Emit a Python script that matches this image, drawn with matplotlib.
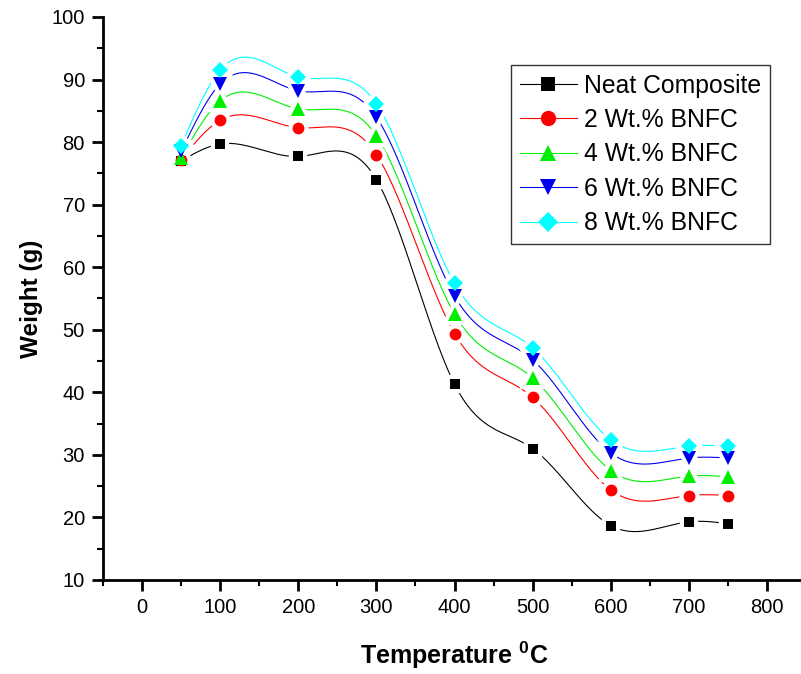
import numpy as np
import matplotlib
matplotlib.use("Agg")
import matplotlib.pyplot as plt
from matplotlib.ticker import MultipleLocator

plt.rcParams['font.family'] = ['Liberation Sans', 'DejaVu Sans']

temps = [50, 100, 200, 300, 400, 500, 600, 700, 750]
neat = [77.0, 79.7, 77.7, 74.0, 41.3, 31.0, 18.7, 19.3, 19.0]
bnfc2 = [77.2, 83.5, 82.3, 78.0, 49.4, 39.2, 24.4, 23.5, 23.5]
bnfc4 = [77.5, 86.6, 85.3, 81.0, 52.5, 42.3, 27.5, 26.6, 26.5]
bnfc6 = [78.5, 89.3, 88.2, 84.0, 55.4, 45.2, 30.3, 29.5, 29.5]
bnfc8 = [79.4, 91.5, 90.4, 86.1, 57.4, 47.1, 32.4, 31.4, 31.4]

labels = ["Neat Composite", "2 Wt.% BNFC", "4 Wt.% BNFC", "6 Wt.% BNFC", "8 Wt.% BNFC"]
series = [neat, bnfc2, bnfc4, bnfc6, bnfc8]
colors = ["black", "#ff0000", "#00ee00", "#0000ee", "#00ffff"]
markers = ["s", "o", "^", "v", "D"]
msizes = [7.5, 8.5, 9.5, 9.5, 8]


def spline(x, y, n=400):
    # natural cubic spline, like Origin's spline connection
    x = np.asarray(x, float)
    y = np.asarray(y, float)
    k = len(x)
    h = np.diff(x)
    A = np.zeros((k, k))
    b = np.zeros(k)
    A[0, 0] = A[-1, -1] = 1
    for i in range(1, k - 1):
        A[i, i - 1] = h[i - 1]
        A[i, i] = 2 * (h[i - 1] + h[i])
        A[i, i + 1] = h[i]
        b[i] = 6 * ((y[i + 1] - y[i]) / h[i] - (y[i] - y[i - 1]) / h[i - 1])
    m = np.linalg.solve(A, b)
    xs = np.linspace(x[0], x[-1], n)
    idx = np.clip(np.searchsorted(x, xs) - 1, 0, k - 2)
    x0, x1 = x[idx], x[idx + 1]
    hh = x1 - x0
    t0, t1 = x1 - xs, xs - x0
    ys = (m[idx] * t0 ** 3 + m[idx + 1] * t1 ** 3) / (6 * hh) \
        + (y[idx] / hh - m[idx] * hh / 6) * t0 + (y[idx + 1] / hh - m[idx + 1] * hh / 6) * t1
    return xs, ys


fig = plt.figure(figsize=(8.01, 6.74), dpi=100)
ax = fig.add_axes([0.1286, 0.1395, 0.8777, 0.8353])

handles = []
for vals, c, mk, ms, lab in zip(series, colors, markers, msizes, labels):
    xs, ys = spline(temps, vals)
    ax.plot(xs, ys, color=c, lw=0.8, zorder=2)
    # white halo gives the small gap between line and marker
    ax.plot(temps, vals, ls="none", marker=mk, ms=ms, color="white",
            markeredgecolor="white", markeredgewidth=6, zorder=3)
    ax.plot(temps, vals, ls="none", marker=mk, ms=ms, color=c, markeredgewidth=0, zorder=4)
    h, = ax.plot([], [], color=c, lw=0.8, marker=mk, ms=ms + 2.5, markeredgewidth=0, label=lab)
    handles.append(h)

ax.set_xlim(-50, 850)
ax.set_ylim(10, 100)
ax.set_xticks(range(0, 900, 100))
ax.xaxis.set_minor_locator(MultipleLocator(50))
ax.yaxis.set_major_locator(MultipleLocator(10))
ax.yaxis.set_minor_locator(MultipleLocator(5))
ax.spines['top'].set_visible(False)
ax.spines['right'].set_visible(False)
ax.spines['left'].set_linewidth(2)
ax.spines['bottom'].set_linewidth(2)
ax.tick_params(which='major', direction='out', length=8, width=2, labelsize=14.5, pad=5)
ax.tick_params(which='minor', direction='out', length=4, width=1.5)

ax.set_xlabel("Temperature $^{\\mathregular{0}}$C", fontsize=18, fontweight='bold', labelpad=16)
ax.set_ylabel("Weight (g)", fontsize=17.5, fontweight='bold', labelpad=6)

leg = ax.legend(handles=handles, loc='upper left', bbox_to_anchor=(511 / 801, 1 - 65 / 674),
                bbox_transform=fig.transFigure, borderaxespad=0,
                fontsize=17.8, frameon=True, fancybox=False, edgecolor='black',
                handlelength=2.3, handletextpad=0.3, borderpad=0.35, labelspacing=0.42)
leg.get_frame().set_linewidth(1.0)

fig.savefig("out.png", dpi=100)
